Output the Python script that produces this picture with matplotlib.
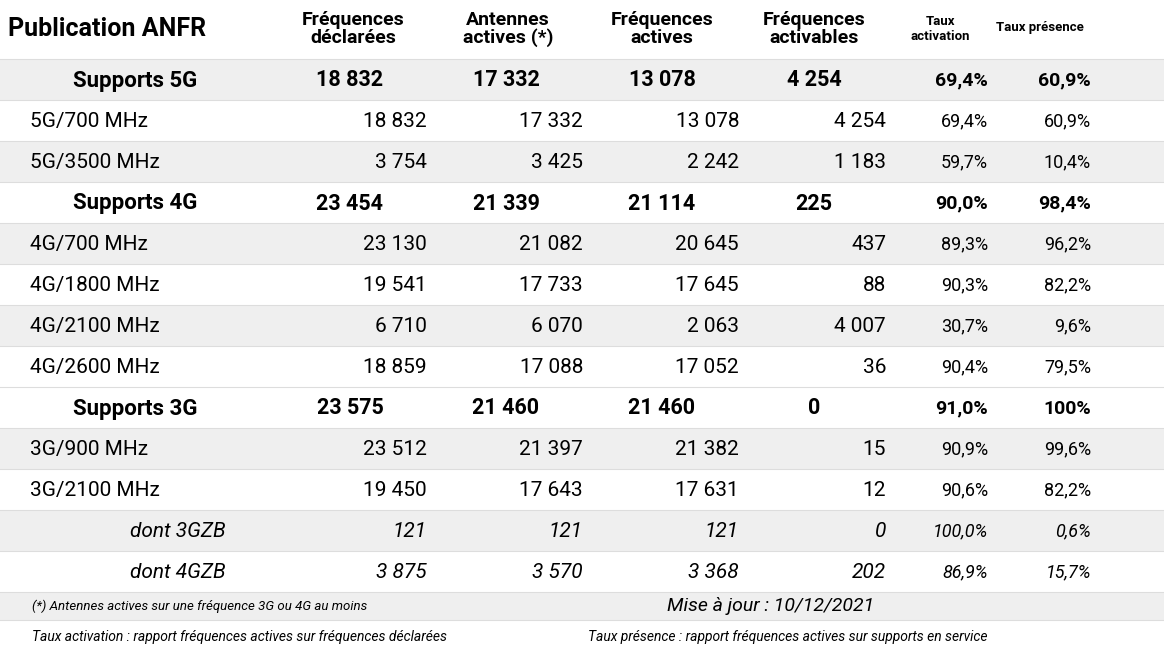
import matplotlib
matplotlib.use("Agg")
import matplotlib.pyplot as plt
from matplotlib.patches import Rectangle

plt.rcParams['font.family'] = ['Roboto', 'DejaVu Sans']

labels = ["Supports 5G", "5G/700 MHz", "5G/3500 MHz", "Supports 4G", "4G/700 MHz",
          "4G/1800 MHz", "4G/2100 MHz", "4G/2600 MHz", "Supports 3G", "3G/900 MHz",
          "3G/2100 MHz", "dont 3GZB", "dont 4GZB"]
declarees = ["18 832", "18 832", "3 754", "23 454", "23 130", "19 541", "6 710", "18 859",
             "23 575", "23 512", "19 450", "121", "3 875"]
antennes = ["17 332", "17 332", "3 425", "21 339", "21 082", "17 733", "6 070", "17 088",
            "21 460", "21 397", "17 643", "121", "3 570"]
actives = ["13 078", "13 078", "2 242", "21 114", "20 645", "17 645", "2 063", "17 052",
           "21 460", "21 382", "17 631", "121", "3 368"]
activables = ["4 254", "4 254", "1 183", "225", "437", "88", "4 007", "36",
              "0", "15", "12", "0", "202"]
taux_act = ["69,4%", "69,4%", "59,7%", "90,0%", "89,3%", "90,3%", "30,7%", "90,4%",
            "91,0%", "90,9%", "90,6%", "100,0%", "86,9%"]
taux_pres = ["60,9%", "60,9%", "10,4%", "98,4%", "96,2%", "82,2%", "9,6%", "79,5%",
             "100%", "99,6%", "82,2%", "0,6%", "15,7%"]
kind = ["bold", "n", "n", "bold", "n", "n", "n", "n", "bold", "n", "n", "it", "it"]
shaded = [1, 0, 1, 0, 1, 0, 1, 0, 0, 1, 0, 1, 0]

W, H = 1164, 653
fig = plt.figure(figsize=(W / 100, H / 100), dpi=100)
ax = fig.add_axes([0, 0, 1, 1])
ax.set_xlim(0, W)
ax.set_ylim(H, 0)
ax.axis('off')
gray = '#efefef'
line = '#dddddd'

# header
ax.text(8, 29, "Publication ANFR", fontsize=18, fontweight='bold', va='center', ha='left')
heads = [("Fréquences\ndéclarées", 353), ("Antennes\nactives (*)", 508),
         ("Fréquences\nactives", 662), ("Fréquences\nactivables", 814)]
for t, x in heads:
    ax.text(x, 29, t, fontsize=14, fontweight='bold', ha='center', va='center', linespacing=0.95)
ax.text(940, 29, "Taux\nactivation", fontsize=9.5, fontweight='bold', ha='center', va='center')
ax.text(1040, 28, "Taux présence", fontsize=9.5, fontweight='bold', ha='center', va='center')

y0, rh = 59, 41
num_cols = [declarees, antennes, actives, activables]
right_x = [427, 583, 739, 886]
center_x = [350, 506, 662, 814]
for i, lab in enumerate(labels):
    top = y0 + i * rh
    if shaded[i]:
        ax.add_patch(Rectangle((0, top), W, rh, color=gray, lw=0))
    ax.plot([0, W], [top, top], color=line, lw=0.8)
    yc = top + rh / 2 + 1
    k = kind[i]
    if k == "bold":
        ax.text(135, yc, lab, fontsize=16, fontweight='bold', ha='center', va='center')
        for col, x in zip(num_cols, center_x):
            ax.text(x, yc, col[i], fontsize=15.5, fontweight='bold', ha='center', va='center')
        ax.text(988, yc, taux_act[i], fontsize=14, fontweight='bold', ha='right', va='center')
        ax.text(1091, yc, taux_pres[i], fontsize=14, fontweight='bold', ha='right', va='center')
    else:
        st = 'italic' if k == "it" else 'normal'
        lx = 130 if k == "it" else 30
        ax.text(lx, yc, lab, fontsize=15, style=st, ha='left', va='center')
        for col, x in zip(num_cols, right_x):
            ax.text(x, yc, col[i], fontsize=15, style=st, ha='right', va='center')
        ax.text(988, yc, taux_act[i], fontsize=13, style=st, ha='right', va='center')
        ax.text(1091, yc, taux_pres[i], fontsize=13, style=st, ha='right', va='center')

ftop = y0 + len(labels) * rh
ax.add_patch(Rectangle((0, ftop), W, 28, color=gray, lw=0))
ax.plot([0, W], [ftop, ftop], color=line, lw=0.8)
ax.text(32, ftop + 14, "(*) Antennes actives sur une fréquence 3G ou 4G au moins",
        fontsize=9.5, style='italic', ha='left', va='center')
ax.text(771, ftop + 14, "Mise à jour : 10/12/2021", fontsize=14, style='italic',
        ha='center', va='center')
ax.plot([0, W], [ftop + 28, ftop + 28], color=line, lw=0.8)
ax.text(32, ftop + 45, "Taux activation : rapport fréquences actives sur fréquences déclarées",
        fontsize=10, style='italic', ha='left', va='center')
ax.text(588, ftop + 45, "Taux présence : rapport fréquences actives sur supports en service",
        fontsize=10, style='italic', ha='left', va='center')

fig.savefig("out.png", dpi=100, facecolor='white')
